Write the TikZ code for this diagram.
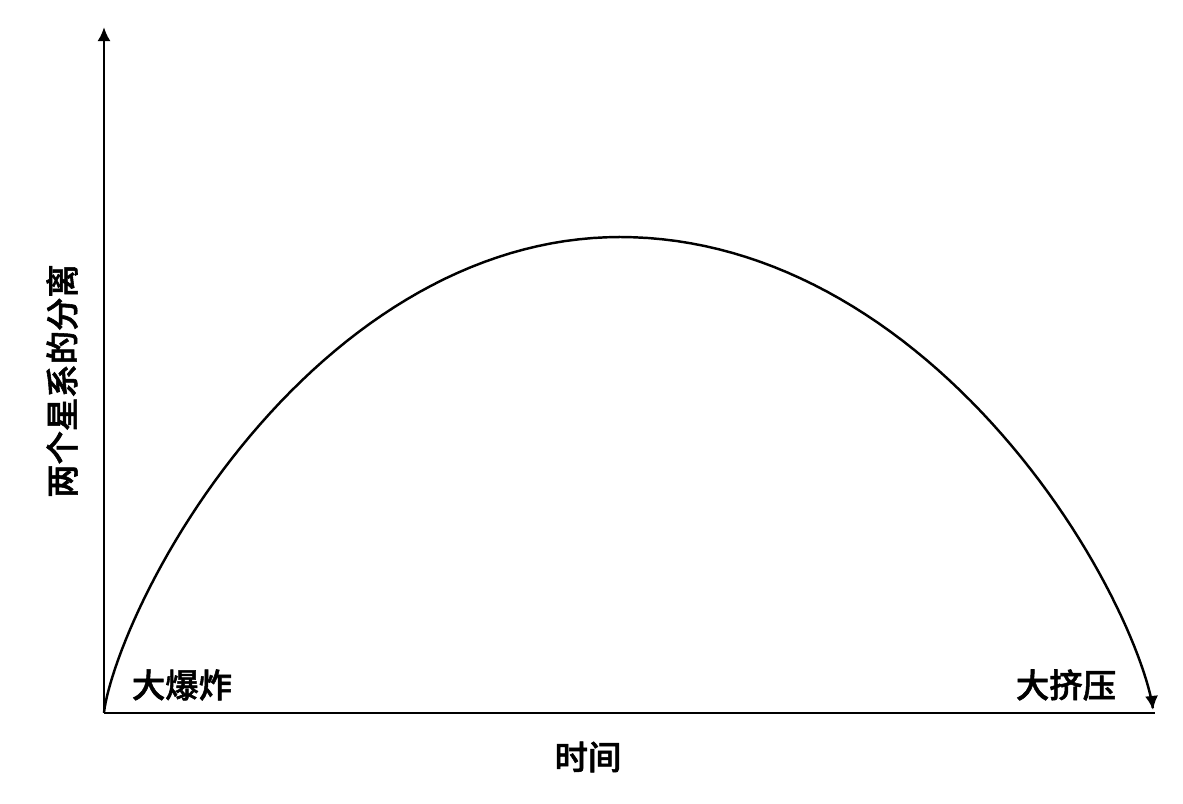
\documentclass[tikz,border=0pt]{standalone}
\usepackage{fontspec}
\newfontfamily\cjk{Noto Sans CJK SC Medium}[AutoFakeBold=1.6]
\usetikzlibrary{arrows.meta}
\tikzset{
    axis/.style={line width=1.7pt},
    tip/.style={-{Latex[length=8pt,width=7.5pt]}},
    lbl/.style={font=\cjk\bfseries\fontsize{19}{19}\selectfont, inner sep=0pt}
}
\begin{document}
\begin{tikzpicture}[x=0.02cm,y=0.02cm]
    \useasboundingbox (0,0) rectangle (1183,804);
    \coordinate (O) at (104,91);
    \coordinate (Ytop) at (104,777);
    \coordinate (Xend) at (1155,91);
    \draw[axis,tip] (O) -- (Ytop);
    \draw[axis] (O) -- (Xend);
    % separation of two galaxies over time
    \draw[line width=1.4pt,tip]
        plot[domain=0:90,samples=60,variable=\t] ({620-516*cos(\t)},{91+476*sin(\t)*sqrt(sin(\t))})
        -- plot[domain=90:0,samples=60,variable=\t] ({620+533*cos(\t)},{94+473*sin(\t)*sqrt(sin(\t))});
    \node[lbl] (bang) at (182,119) {大爆炸};
    \node[lbl] (crunch) at (1066,119) {大挤压};
    \node[lbl] (time) at (588,47) {时间};
    \node[lbl,rotate=90] (sep) at (62,423) {两个星系的分离};
\end{tikzpicture}
\end{document}
